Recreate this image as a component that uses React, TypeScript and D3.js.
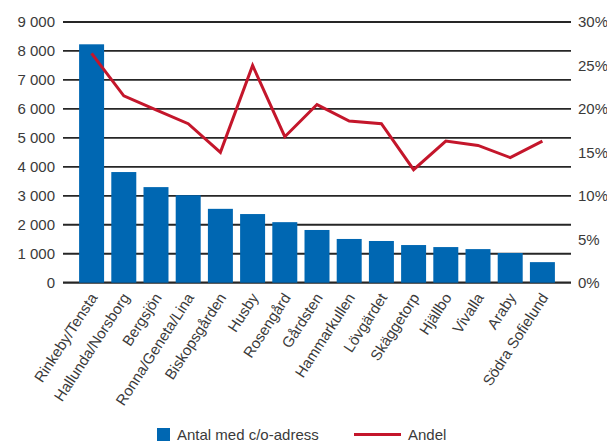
import { useEffect, useRef } from 'react';
import * as d3 from 'd3';

const AREAS = [
  'Rinkeby/Tensta', 'Hallunda/Norsborg', 'Bergsjön', 'Ronna/Geneta/Lina', 'Biskopsgården',
  'Husby', 'Rosengård', 'Gårdsten', 'Hammarkullen', 'Lövgärdet',
  'Skäggetorp', 'Hjällbo', 'Vivalla', 'Araby', 'Södra Sofielund',
];
const COUNT = [8230, 3820, 3300, 3020, 2550, 2370, 2090, 1820, 1510, 1440, 1300, 1230, 1160, 1025, 710];
const SHARE = [26.4, 21.5, 19.9, 18.3, 15.0, 25.0, 16.8, 20.5, 18.6, 18.3, 13.0, 16.3, 15.8, 14.4, 16.3];
const LEFT_TICKS = [0, 1000, 2000, 3000, 4000, 5000, 6000, 7000, 8000, 9000];
const RIGHT_TICKS = [0, 5, 10, 15, 20, 25, 30];

const BLUE = '#0067b2';
const RED = '#c4162b';
const TEXT = '#3a3a3a';
const FONT = '"Liberation Sans", Arial, sans-serif';
const FS = 15;

export default function App() {
  const svgRef = useRef<SVGSVGElement>(null);

  useEffect(() => {
    if (!svgRef.current) return;
    const svg = d3.select(svgRef.current);
    svg.selectAll('*').remove();

    const left = 63, right = 571, top = 22, bottom = 282.7;

    const x = d3.scaleBand<string>().domain(AREAS).range([left, right])
      .paddingInner(0.224).paddingOuter(0.5);
    const y = d3.scaleLinear().domain([0, 9000]).range([bottom, top]);
    const y2 = d3.scaleLinear().domain([0, 30]).range([bottom, top]);

    // grid
    svg.append('g').selectAll('line').data(LEFT_TICKS).join('line')
      .attr('x1', left).attr('x2', right)
      .attr('y1', d => y(d)).attr('y2', d => y(d))
      .attr('stroke', '#262626').attr('stroke-width', d => d === 0 ? 2.2 : 1.8);

    svg.append('g').selectAll('text').data(LEFT_TICKS).join('text')
      .attr('x', 55).attr('y', d => y(d)).attr('dy', '0.35em')
      .attr('text-anchor', 'end').attr('fill', TEXT)
      .attr('font-size', FS).attr('font-family', FONT)
      .text(d => d === 0 ? '0' : d3.format(',')(d).replace(',', ' '));

    svg.append('g').selectAll('text').data(RIGHT_TICKS).join('text')
      .attr('x', 578).attr('y', d => y2(d)).attr('dy', '0.35em')
      .attr('fill', TEXT).attr('font-size', FS).attr('font-family', FONT)
      .text(d => `${d}%`);

    // bars
    svg.append('g').selectAll('rect').data(AREAS).join('rect')
      .attr('x', d => x(d)!).attr('width', x.bandwidth())
      .attr('y', (_, i) => y(COUNT[i]))
      .attr('height', (_, i) => bottom - y(COUNT[i]))
      .attr('fill', BLUE);

    // line
    const line = d3.line<number>()
      .x((_, i) => x(AREAS[i])! + x.bandwidth() / 2)
      .y(d => y2(d));
    svg.append('path').datum(SHARE)
      .attr('d', line).attr('fill', 'none')
      .attr('stroke', RED).attr('stroke-width', 3).attr('stroke-linejoin', 'miter');

    // category labels
    svg.append('g').selectAll('text').data(AREAS).join('text')
      .attr('transform', d => `translate(${x(d)! + x.bandwidth() / 2 + 2},${bottom + 12}) rotate(-57)`)
      .attr('text-anchor', 'end').attr('dy', '0.35em')
      .attr('fill', TEXT).attr('font-size', FS).attr('font-family', FONT)
      .text(d => d);

    // legend
    const lg = svg.append('g').attr('font-family', FONT).attr('font-size', FS).attr('fill', TEXT);
    lg.append('rect').attr('x', 157).attr('y', 428).attr('width', 13).attr('height', 13).attr('fill', BLUE);
    lg.append('text').attr('x', 177).attr('y', 440).text('Antal med c/o-adress');
    lg.append('line').attr('x1', 354).attr('x2', 401).attr('y1', 434.5).attr('y2', 434.5)
      .attr('stroke', RED).attr('stroke-width', 3);
    lg.append('text').attr('x', 408).attr('y', 440).text('Andel');
  }, []);

  return (
    <svg ref={svgRef} width={607} height={443}
      style={{ position: 'absolute', left: 0, top: 0, display: 'block', background: '#fff' }} />
  );
}
